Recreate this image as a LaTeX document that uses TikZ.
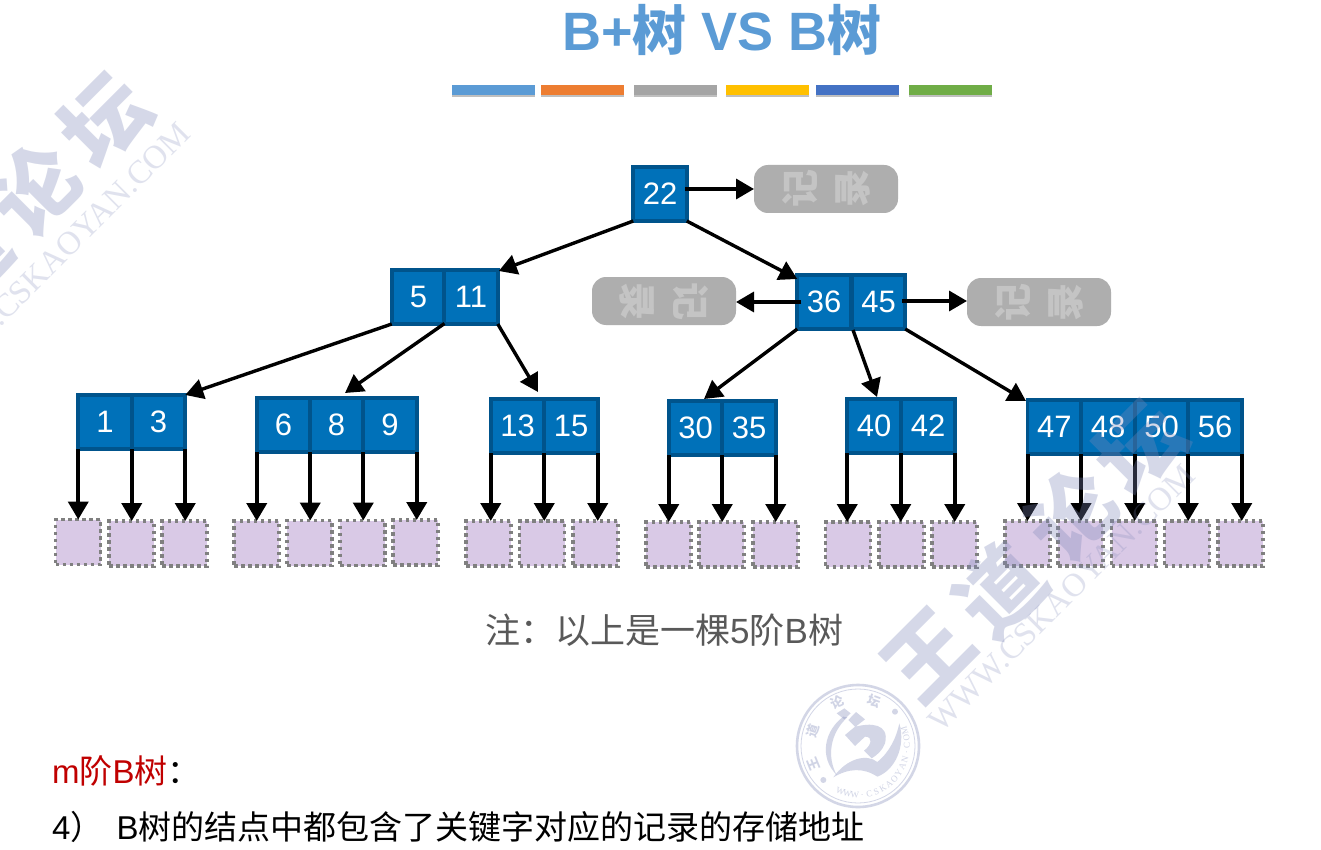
\documentclass[tikz,border=0pt]{standalone}
\usepackage{fontspec}
\setmainfont{Liberation Sans}
\newfontfamily\cjk{Noto Sans CJK SC}
\newfontfamily\wmserif{Liberation Serif}
\usetikzlibrary{arrows.meta,calc}
\definecolor{cellfill}{HTML}{0071B9}
\definecolor{cellline}{HTML}{00548C}
\definecolor{leaffill}{HTML}{D9C9E6}
\definecolor{leafline}{HTML}{808080}
\definecolor{pillfill}{HTML}{AEAEAE}
\definecolor{pilltext}{HTML}{C4C4C4}
\definecolor{wm}{HTML}{7F88B8}
\definecolor{titleblue}{HTML}{5B9BD5}
\newcommand{\fs}[1]{\fontsize{#1}{#1}\selectfont}
\tikzset{
 x=1pt,y=-1pt,
 cellbox/.style={draw=cellline,fill=cellfill,line width=3.6pt,outer sep=0pt,minimum width=53.5pt,minimum height=54pt,inner sep=0pt,text=white,font=\fs{31}},
 leafbox/.style={draw=leafline,fill=leaffill,line width=3.5pt,dash pattern=on 3.5pt off 3.5pt,minimum width=45pt,minimum height=45pt,inner sep=0pt,outer sep=0pt},
 pill/.style={fill=pillfill,rounded corners=14pt,minimum width=144pt,minimum height=48pt,inner sep=0pt,outer sep=0pt,text=pilltext,font=\fs{38}\cjk\bfseries},
 link/.style={line width=3.4pt,-{Triangle[length=18pt,width=20pt]}},
 down/.style={line width=4pt,-{Triangle[length=18pt,width=20pt]}},
 bar/.style={minimum height=10pt,minimum width=83pt,inner sep=0pt},
 wmbig/.style={text=wm,opacity=.32,font=\fs{85}\cjk\bfseries,rotate=45,inner sep=0pt},
 wmsmall/.style={text=wm,opacity=.24,font=\fs{33}\wmserif,rotate=45,inner sep=0pt},
 wmseal/.style={text=wm,opacity=.36,inner sep=0pt},
 wmring/.style={draw=wm,opacity=.34},
 wmlogo/.style={fill=wm,opacity=.34},
 caption/.style={inner sep=0pt,anchor=west}
}
\begin{document}
\begin{tikzpicture}
\useasboundingbox (0,0) rectangle (1321,850);
\fill[white] (0,0) rectangle (1321,850);
% title
\node[text=titleblue,inner sep=0pt] (title) at (722,30) {\fs{54}\bfseries B+{\cjk 树} VS B{\cjk 树}};
\foreach \n/\x/\c in {a/493/5B9BD5,b/582/ED7D31,c/675/A5A5A5,d/767/FFC000,e/857/4472C4,f/950/70AD47}{
  \definecolor{barc}{HTML}{\c}
  \fill[black!25] (\x-41,88) rectangle (\x+42,97);
  \node[bar,fill=barc] (bar\n) at (\x,90.5) {};
}
% cells
\foreach \nm/\t/\x/\y in {
 k22/22/660/194,
 k5/5/418.5/297, k11/11/471/297,
 k36/36/824/302, k45/45/878.5/302,
 k1/1/105/422, k3/3/158.5/422,
 k6/6/283.5/425, k8/8/336.5/425, k9/9/390/425,
 k13/13/517.5/426, k15/15/571/426,
 k30/30/695.5/428, k35/35/749/428,
 k40/40/874/426, k42/42/928/426,
 k47/47/1054.3/427, k48/48/1108/427, k50/50/1161.5/427, k56/56/1215/427}{
 \node[cellbox] (\nm) at (\x,\y) {\t};
}
% leaves
\foreach \nm/\x/\y in {
 l1/78/542,l2/131.5/543.5,l3/184.5/543.5,
 l4/256.5/543.5,l5/309.5/543,l6/362.5/543,l7/415.5/542.5,
 l8/488.5/543.5,l9/542/543.5,l10/595.5/543.5,
 l11/668.5/544.5,l12/721.5/544.5,l13/775.5/544.5,
 l14/848/544.5,l15/901.5/544.5,l16/954.5/544.5,
 l17/1027.5/543.5,l18/1080.5/543.5,l19/1134/543.5,l20/1187/543.5,l21/1240.5/543.5}{
 \node[leafbox] (\nm) at (\x,\y) {};
}
% pills (glyphs standing sideways)
\node[pill] (p1) at (826,189) {\rotatebox{90}{记}\hspace{18pt}\rotatebox{90}{录}};
\node[pill] (p2) at (664,301) {\rotatebox{-90}{录}\hspace{18pt}\rotatebox{-90}{记}};
\node[pill] (p3) at (1039,302) {\rotatebox{90}{记}\hspace{18pt}\rotatebox{90}{录}};
% free ends
\coordinate (t8) at (345,393);
\coordinate (t13) at (538,392);
\coordinate (t30) at (704,399);
\coordinate (t40) at (877,397);
\coordinate (t47) at (1026,401);
\coordinate (s5) at (444.5,323.5);
\coordinate (s40) at (853,330);
% connectors
\draw[link] ($(k22.east |- p1.west)+(-2,0)$) -- (p1.west);
\draw[link] ($(k36.west |- p2.east)+(4,1)$) -- ($(p2.east)+(0,1)$);
\draw[link] ($(k45.east |- p3.west)+(-3,-1)$) -- ($(p3.west)+(0,-1)$);
\draw[link] (k22.south west) -- ($(k11.north east)+(1,1)$);
\draw[link] (k22.south east) -- ($(k36.north west)+(0,4)$);
\draw[link] (k5.south west) -- (k3.north east);
\draw[link] (s5) -- (t8);
\draw[link] (k11.south east) -- (t13);
\draw[link] (k36.south west) -- (t30);
\draw[link] (s40) -- (t40);
\draw[link] (k45.south east) -- (t47);
\foreach \a/\b in {k1.south west/l1,k1.south east/l2,k3.south east/l3,
 k6.south west/l4,k6.south east/l5,k8.south east/l6,k9.south east/l7,
 k13.south west/l8,k13.south east/l9,k15.south east/l10,
 k30.south west/l11,k30.south east/l12,k35.south east/l13,
 k40.south west/l14,k40.south east/l15,k42.south east/l16,
 k47.south west/l17,k47.south east/l18,k48.south east/l19,k50.south east/l20,k56.south east/l21}{
 \draw[down] (\a) -- (\a |- \b.north);
}
% texts
\node[caption,text={rgb,255:red,89;green,89;blue,89}] (note) at (485,630) {\fs{35}{\cjk 注：以上是一棵}5{\cjk 阶}B{\cjk 树}};
\node[caption,text={rgb,255:red,192;green,0;blue,0}] (mh) at (52,771) {\fs{33}m{\cjk 阶}B{\cjk 树}\textcolor{black}{\cjk ：}};
\node[caption] (four) at (52,827) {\fs{33}4{\cjk ）}\hspace{13pt}B{\cjk 树的结点中都包含了关键字对应的记录的存储地址}};
% watermark 1
\node[wmbig] (wa1) at (105,120) {坛};
\node[wmbig] (wa2) at (35,190) {论};
\node[wmbig] (wa3) at (-35,258) {道};
\node[wmsmall,anchor=east] (wa4) at (185,128) {WWW.CSKAOYAN.COM};
% watermark 2
\node[wmbig] (wb1) at (928,655) {王};
\node[wmbig] (wb2) at (1000,590) {道};
\node[wmbig] (wb3) at (1072,515) {论};
\node[wmbig] (wb4) at (1140,447) {坛};
\node[wmsmall,anchor=east] (wb5) at (1190,470) {WWW.CSKAOYAN.COM};
% seal
\coordinate (sc) at (858,746);
\draw[wmring,line width=2.6pt] (sc) circle (61);
\draw[wmring,line width=.8pt] (sc) circle (57);
\foreach \ch/\ang in {王/202,道/162,论/115,坛/70}{
 \node[wmseal,font=\fs{13}\cjk\bfseries,rotate=\ang-90] at ($(sc)+({cos(\ang)*48},{-sin(\ang)*48})$) {\ch};
}
\foreach \ch [count=\i from 0] in {W,W,W,.,C,S,K,A,O,Y,A,N,.,C,O,M}{
 \pgfmathsetmacro{\ang}{-111+\i*8.6}
 \node[wmseal,font=\fs{9}\wmserif,rotate=\ang+90] at ($(sc)+({cos(\ang)*49},{-sin(\ang)*49})$) {\ch};
}
\begin{scope}[shift={(790,680)},x=.3333pt,y=-.3333pt]
\fill[wmlogo] (160,110) .. controls (105,150) and (85,230) .. (140,285) .. controls (110,230) and (120,160) .. (172,112) -- cycle;
\fill[wmlogo] (140,100) -- (163,85) -- (182,100) -- (163,118) -- cycle;
\fill[wmlogo] (130,292) .. controls (170,235) and (230,220) .. (262,246) .. controls (300,215) and (320,170) .. (328,130) .. controls (348,200) and (315,270) .. (262,290) .. controls (220,262) and (175,265) .. (130,292) -- cycle;
\fill[wmlogo] (198,96) -- (225,118) -- (197,140) .. controls (240,128) and (300,130) .. (285,190) .. controls (278,210) and (262,225) .. (245,235) -- (222,212) .. controls (245,195) and (250,170) .. (225,170) -- (195,198) -- (165,165) -- (195,140) -- (175,120) -- cycle;
\fill[wmlogo] (315,95) circle (9);
\fill[wmlogo] (100,300) circle (9);
\end{scope}
\end{tikzpicture}
\end{document}
